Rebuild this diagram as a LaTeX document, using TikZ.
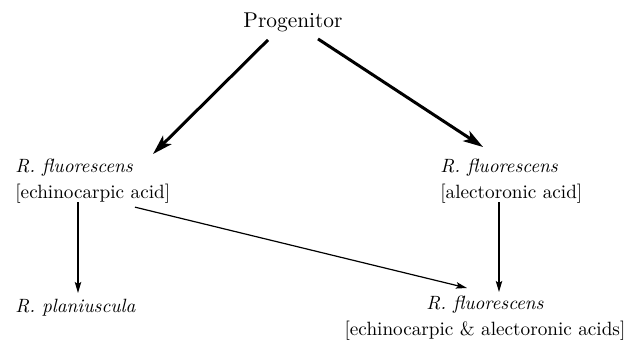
\documentclass[tikz,border=0pt]{standalone}
\usepackage{tikz}
\usetikzlibrary{arrows.meta, positioning}

\begin{document}
\begin{tikzpicture}[x=0.5pt, y=-0.5pt,
  taxon/.style={inner sep=0pt, font=\fontsize{9.6}{13}\selectfont},
  bigarrow/.style={line width=1.5pt, -{Stealth[length=10pt, width=6pt, inset=2.5pt]}},
  smallarrow/.style={line width=0.6pt, -{Stealth[length=5.5pt, width=3.2pt, inset=1pt]}}]
  \useasboundingbox (0,0) rectangle (626,339);

  % Species
  \node[taxon, font=\fontsize{10.7}{13}\selectfont] (prog) at (293,22) {Progenitor};
  \node[taxon, anchor=north west, align=left] (echino) at (15,159) {\textit{R. fluorescens}\\{}[echinocarpic acid]};
  \node[taxon, anchor=north west, align=left] (alect) at (440,159) {\textit{R. fluorescens}\\{}[alectoronic acid]};
  \node[taxon, anchor=north west] (plan) at (15,299) {\textit{R. planiuscula}};
  \node[taxon, anchor=north, align=center] (combo) at (485,296) {\textit{R. fluorescens}\\{}[echinocarpic \& alectoronic acids]};

  % Derivations
  \draw[bigarrow] ([shift={(-25,8)}]prog.south) -- ([shift={(138,-5)}]echino.north west);
  \draw[bigarrow] ([shift={(25,7)}]prog.south) -- ([shift={(43,-12)}]alect.north west);
  \draw[smallarrow] ([shift={(63,-2)}]echino.south west) -- ([shift={(63,-6)}]plan.north west);
  \draw[smallarrow] ([shift={(120,3)}]echino.south west) -- ([shift={(-18,-8)}]combo.north);
  \draw[smallarrow] ([shift={(59,-2)}]alect.south west) -- ([shift={(14,-4)}]combo.north);
\end{tikzpicture}
\end{document}
